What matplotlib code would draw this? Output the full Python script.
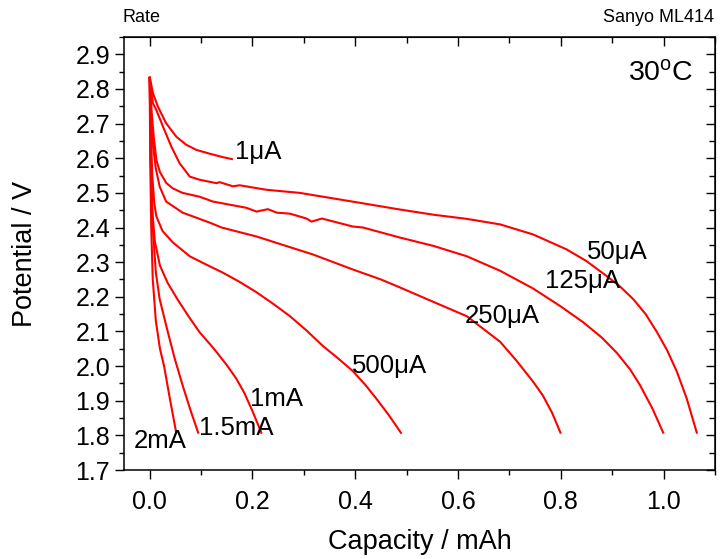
import matplotlib
matplotlib.use("Agg")
import matplotlib.pyplot as plt
from matplotlib.ticker import MultipleLocator, FormatStrFormatter

plt.rcParams['font.family'] = ['Liberation Sans', 'DejaVu Sans']
plt.rcParams['mathtext.fontset'] = 'custom'
plt.rcParams['mathtext.rm'] = 'Liberation Sans'
plt.rcParams['mathtext.it'] = 'Liberation Sans'

# Discharge curves: capacity (mAh) vs potential (V) at each rate
cap_1uA = [0, 0.0065, 0.016, 0.032, 0.052, 0.071, 0.091, 0.117, 0.143, 0.162]
v_1uA = [2.835, 2.787, 2.749, 2.701, 2.662, 2.639, 2.624, 2.613, 2.603, 2.597]

cap_50uA = [0, 0.006, 0.013, 0.026, 0.042, 0.058, 0.078, 0.097, 0.13, 0.136, 0.162,
            0.175, 0.227, 0.292, 0.39, 0.487, 0.552, 0.617, 0.682, 0.746, 0.811,
            0.85, 0.889, 0.915, 0.941, 0.965, 0.987, 1.007, 1.026, 1.045, 1.065]
v_50uA = [2.835, 2.76, 2.739, 2.691, 2.634, 2.586, 2.547, 2.538, 2.528, 2.531, 2.519,
          2.522, 2.509, 2.5, 2.476, 2.452, 2.437, 2.425, 2.409, 2.38, 2.337,
          2.303, 2.26, 2.23, 2.193, 2.15, 2.098, 2.045, 1.983, 1.906, 1.805]

cap_125uA = [0, 0.004, 0.008, 0.013, 0.02, 0.032, 0.045, 0.064, 0.097, 0.123, 0.188,
             0.208, 0.23, 0.247, 0.273, 0.305, 0.315, 0.335, 0.395, 0.415, 0.487,
             0.552, 0.617, 0.682, 0.746, 0.80, 0.843, 0.88, 0.909, 0.935, 0.954,
             0.978, 1.0]
v_125uA = [2.835, 2.73, 2.66, 2.595, 2.56, 2.529, 2.513, 2.5, 2.489, 2.475, 2.457,
           2.446, 2.453, 2.443, 2.44, 2.426, 2.417, 2.426, 2.403, 2.4, 2.371,
           2.347, 2.317, 2.275, 2.224, 2.172, 2.127, 2.082, 2.038, 1.99, 1.945,
           1.878, 1.805]

cap_250uA = [0, 0.003, 0.007, 0.012, 0.0195, 0.032, 0.064, 0.117, 0.14, 0.208, 0.318,
             0.395, 0.45, 0.487, 0.54, 0.617, 0.682, 0.714, 0.746, 0.765, 0.783, 0.80]
v_250uA = [2.835, 2.72, 2.63, 2.57, 2.518, 2.475, 2.443, 2.414, 2.4, 2.374, 2.322,
           2.279, 2.25, 2.227, 2.193, 2.144, 2.07, 2.015, 1.955, 1.915, 1.865, 1.805]

cap_500uA = [0, 0.002, 0.005, 0.009, 0.013, 0.025, 0.045, 0.078, 0.11, 0.142, 0.175,
             0.208, 0.24, 0.273, 0.305, 0.337, 0.366, 0.395, 0.42, 0.441, 0.466, 0.49]
v_500uA = [2.835, 2.7, 2.55, 2.47, 2.432, 2.39, 2.357, 2.317, 2.293, 2.27, 2.243,
           2.213, 2.18, 2.144, 2.103, 2.058, 2.023, 1.986, 1.945, 1.906, 1.857, 1.805]

cap_1mA = [0, 0.002, 0.005, 0.01, 0.02, 0.035, 0.054, 0.075, 0.097, 0.125, 0.15,
           0.168, 0.184, 0.2, 0.218]
v_1mA = [2.835, 2.6, 2.45, 2.36, 2.29, 2.24, 2.193, 2.145, 2.098, 2.05, 2.003,
         1.965, 1.923, 1.87, 1.805]

cap_1p5mA = [0, 0.002, 0.006, 0.012, 0.0195, 0.035, 0.049, 0.065, 0.08, 0.095]
v_1p5mA = [2.835, 2.6, 2.4, 2.27, 2.193, 2.1, 2.02, 1.94, 1.87, 1.805]

cap_2mA = [0, 0.001, 0.003, 0.006, 0.012, 0.02, 0.028, 0.04, 0.052]
v_2mA = [2.835, 2.6, 2.4, 2.25, 2.13, 2.05, 2.0, 1.9, 1.805]

curves = [(cap_1uA, v_1uA), (cap_50uA, v_50uA), (cap_125uA, v_125uA),
          (cap_250uA, v_250uA), (cap_500uA, v_500uA), (cap_1mA, v_1mA),
          (cap_1p5mA, v_1p5mA), (cap_2mA, v_2mA)]

rate_labels = ['1\u03bcA', '50\u03bcA', '125\u03bcA', '250\u03bcA', '500\u03bcA',
               '1mA', '1.5mA', '2mA']
label_x = [0.166, 0.851, 0.769, 0.613, 0.393, 0.195, 0.095, -0.031]
label_y = [2.618, 2.328, 2.245, 2.144, 2.001, 1.906, 1.82, 1.785]

fig = plt.figure(figsize=(7.2, 5.59), dpi=100)
ax = fig.add_axes([0.1722, 0.1592, 0.8209, 0.7746])

for cx, cy in curves:
    ax.plot(cx, cy, color='#ff0000', lw=1.5, solid_joinstyle='round',
            solid_capstyle='butt')

for t, lx, ly in zip(rate_labels, label_x, label_y):
    ax.text(lx, ly, t, fontsize=18.5, ha='left', va='center')

ax.text(1.057, 2.845, r'30$^{\mathrm{o}}$C', fontsize=20.5, ha='right', va='center')

ax.set_xlim(-0.05, 1.10)
ax.set_ylim(1.70, 2.95)
ax.xaxis.set_major_locator(MultipleLocator(0.2))
ax.xaxis.set_minor_locator(MultipleLocator(0.1))
ax.yaxis.set_major_locator(MultipleLocator(0.1))
ax.yaxis.set_minor_locator(MultipleLocator(0.05))
ax.xaxis.set_major_formatter(FormatStrFormatter('%.1f'))
ax.yaxis.set_major_formatter(FormatStrFormatter('%.1f'))

for s in ax.spines.values():
    s.set_linewidth(1.1)

ax.tick_params(which='both', direction='out', width=1.0, labelsize=18)
ax.tick_params(axis='both', which='major', length=6.5)
ax.tick_params(axis='both', which='minor', length=3.5)
ax.tick_params(axis='x', which='major', pad=8)
ax.tick_params(axis='y', which='major', pad=3.5)
ax.tick_params(top=False, right=False)

# mirrored inward ticks on the top and right
ax_top = ax.secondary_xaxis('top')
ax_top.xaxis.set_major_locator(MultipleLocator(0.2))
ax_top.xaxis.set_minor_locator(MultipleLocator(0.1))
ax_top.tick_params(which='both', direction='in', labeltop=False, width=1.0)
ax_top.tick_params(which='major', length=6.5)
ax_top.tick_params(which='minor', length=4)
ax_top.set_xticklabels([])
ax_right = ax.secondary_yaxis('right')
ax_right.yaxis.set_major_locator(MultipleLocator(0.1))
ax_right.yaxis.set_minor_locator(MultipleLocator(0.05))
ax_right.tick_params(which='both', direction='in', labelright=False, width=1.0)
ax_right.tick_params(which='major', length=6.5)
ax_right.tick_params(which='minor', length=4)
ax_right.set_yticklabels([])

fig.text(419.5 / 720, 1 - 542 / 559, 'Capacity / mAh', fontsize=19.5,
         ha='center', va='center')
fig.text(25 / 720, 1 - 254 / 559, 'Potential / V', fontsize=19.5,
         ha='center', va='center', rotation=90)

fig.text(123 / 720, 1 - 17 / 559, 'Rate', fontsize=13, ha='left', va='center')
fig.text(714 / 720, 1 - 17 / 559, 'Sanyo ML414', fontsize=13, ha='right', va='center')

fig.savefig('out.png', dpi=100)
